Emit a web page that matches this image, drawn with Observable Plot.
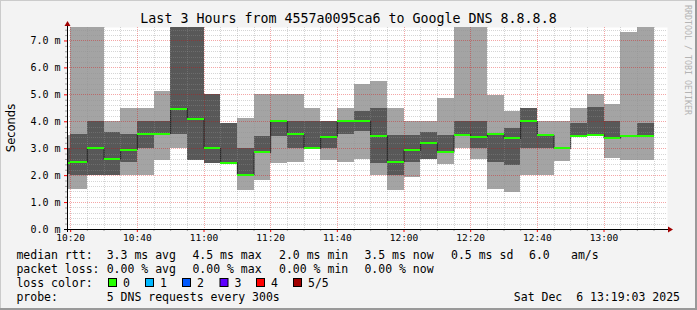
<!DOCTYPE html>
<html><head><meta charset="utf-8">
<script src="https://cdn.jsdelivr.net/npm/d3@7"></script>
<script src="https://cdn.jsdelivr.net/npm/@observablehq/plot@0.6"></script>
<style>
html,body{margin:0;padding:0;background:#f3f3f3;}
#chart svg{display:block;}
text{white-space:pre;}
</style></head><body><div id="chart"></div>
<script>
// ---- data (ms) ----
const binStart = ["10:15","10:20","10:25","10:30","10:35","10:40","10:45","10:50","10:55",
  "11:00","11:05","11:10","11:15","11:20","11:25","11:30","11:35","11:40","11:45","11:50","11:55",
  "12:00","12:05","12:10","12:15","12:20","12:25","12:30","12:35","12:40","12:45","12:50","12:55",
  "13:00","13:05","13:10"];
const ping1 = [1.49,1.50,2.02,2.02,2.02,2.02,2.57,3.01,2.57,2.45,2.45,1.46,1.83,2.45,2.49,3.01,2.57,2.49,2.61,2.02,1.46,1.93,2.61,2.43,3.01,2.61,1.50,1.37,2.02,2.02,2.52,3.48,3.52,2.64,2.57,2.57];
const ping2 = [2.03,2.02,2.02,2.02,2.49,3.01,3.52,3.52,2.57,2.45,2.45,2.02,2.84,3.45,3.01,3.01,3.01,3.52,3.64,2.45,2.02,2.49,2.61,2.84,3.48,3.01,2.49,2.39,3.01,3.01,3.01,3.48,3.52,3.39,3.48,3.48];
const median = [2.48,2.51,3.01,2.61,2.97,3.53,3.56,4.49,4.11,3.01,2.48,2.03,2.86,4.01,3.53,3.01,3.45,4.01,4.01,3.48,2.49,2.94,3.20,2.86,3.52,3.45,3.53,3.38,4.01,3.51,3.01,3.48,3.52,3.39,3.48,3.48];
const ping4 = [3.02,3.52,4.01,3.60,3.52,4.01,4.01,8.00,8.00,5.03,3.94,3.01,3.45,4.01,4.01,4.01,4.01,4.01,4.38,4.49,3.48,3.48,3.60,3.48,4.01,4.01,3.53,3.75,4.49,3.52,3.01,3.94,4.53,4.01,3.48,3.94];
const ping5 = [3.49,8.00,8.00,4.01,4.49,4.49,5.12,8.00,8.00,5.03,3.94,4.11,5.03,5.03,5.03,4.49,4.01,4.49,5.40,5.50,4.49,4.01,4.01,4.86,8.00,8.00,4.99,4.38,4.49,4.01,4.01,4.49,5.03,4.65,7.32,8.00];
const yTicks = [0,1,2,3,4,5,6,7];
const xTickLabels = ["10:20","10:40","11:00","11:20","11:40","12:00","12:20","12:40","13:00"];
const titleText = "Last 3 Hours from 4557a0095ca6 to Google DNS 8.8.8.8";
const rttItems = [["median rtt:",16.4],["3.3 ms avg",106.7],["4.5 ms max",192.4],["2.0 ms min",279],["3.5 ms now",364.4],["0.5 ms sd",451],["6.0",529],["am/s",571]];
const lossItems = [["packet loss:",16.4],["0.00 % avg",106.7],["0.00 % max",192.4],["0.00 % min",279],["0.00 % now",364.4]];
const lossColorLabels = ["0","1","2","3","4","5/5"];
const lossColors = ["#26ff00","#00b8ff","#0059ff","#5e00ff","#ff0000","#a00000"];
const probeText = "5 DNS requests every 300s";
const dateText = "Sat Dec  6 13:19:03 2025";

// ---- build ----
const day = "2025-12-06T";
const parse = s => new Date(day + s + ":00Z");
const bins = binStart.map((s, i) => ({
  start: parse(s), end: d3.utcMinute.offset(parse(s), 5),
  p1: ping1[i], p2: ping2[i], p3: median[i], p4: ping4[i], p5: ping5[i]
}));
const medPts = bins.map(b => ({t: b.start, v: b.p3}));
medPts.push({t: bins[bins.length-1].end, v: bins[bins.length-1].p3});
const x0 = new Date(day + "10:19:03Z"), x1 = new Date(day + "13:19:03Z");
const W = 697, H = 310, ML = 67, MR = 30, MT = 27, MB = 81;

const allX = d3.utcMinute.every(5).range(x0, x1);
const majorX = xTickLabels.map(parse);
const minorX = allX.filter(d => d.getUTCMinutes() % 20 !== 0);
const minorY = d3.range(1, 38).filter(i => i % 5 !== 0).map(i => i / 5);
const fmtY = d => d.toFixed(1) + " m";

const chart = Plot.plot({
  width: W, height: H, marginLeft: ML, marginRight: MR, marginTop: MT, marginBottom: MB,
  style: {background: "#f3f3f3", fontFamily: "'DejaVu Sans Mono', monospace", color: "#000"},
  x: {type: "utc", domain: [x0, x1]},
  y: {domain: [0, 7.5]},
  marks: [
    Plot.frame({fill: "#ffffff", stroke: "none"}),
    Plot.rect(bins, {x1: "start", x2: "end", y1: "p1", y2: "p5", fill: "#a4a4a4", clip: true, shapeRendering: "crispEdges"}),
    Plot.rect(bins, {x1: "start", x2: "end", y1: "p2", y2: "p4", fill: "#585858", clip: true, shapeRendering: "crispEdges"}),
    Plot.ruleX(minorX, {stroke: "#909090", strokeOpacity: 0.38, strokeDasharray: "1,1", shapeRendering: "crispEdges"}),
    Plot.ruleY(minorY, {stroke: "#909090", strokeOpacity: 0.38, strokeDasharray: "1,1", shapeRendering: "crispEdges"}),
    Plot.ruleX(majorX, {stroke: "#e00000", strokeOpacity: 0.35, strokeDasharray: "1,1", shapeRendering: "crispEdges"}),
    Plot.ruleY(yTicks.slice(1), {stroke: "#e00000", strokeOpacity: 0.35, strokeDasharray: "1,1", shapeRendering: "crispEdges"}),
    Plot.line(medPts, {x: "t", y: "v", curve: "step-after", stroke: "#202020", strokeWidth: 1, strokeDasharray: "1,1", clip: true}),
    Plot.ruleY(bins, {x1: "start", x2: "end", y: "p3", stroke: "#26ff00", strokeWidth: 2, clip: true, shapeRendering: "crispEdges"}),
    Plot.axisX(minorX, {tickSize: 2, tickFormat: () => "", stroke: "#a0a0a0"}),
    Plot.axisX(majorX, {tickSize: 3, tickFormat: () => "", stroke: "#ff0000"}),
    Plot.axisX(majorX, {tickSize: 0, tickPadding: 5, tickFormat: d3.utcFormat("%H:%M"), fontSize: 9.5, fill: "#000"}),
    Plot.axisY(minorY, {tickSize: 2, tickFormat: () => "", stroke: "#a0a0a0"}),
    Plot.axisY(yTicks, {tickSize: 3, tickFormat: () => "", stroke: "#ff0000"}),
    Plot.axisY(yTicks, {tickSize: 0, tickPadding: 7, tickFormat: fmtY, fontSize: 10, fill: "#000"})
  ]
});
document.getElementById("chart").appendChild(chart);

// ---- decorations ----
const svg = d3.select(chart);
const xs = chart.scale("x"), ys = chart.scale("y");
const px0 = Math.round(xs.apply(x0)), px1 = Math.round(xs.apply(x1));
const py0 = Math.round(ys.apply(0)), pyTop = Math.round(ys.apply(7.5));
// axis lines
svg.append("line").attr("x1", px0 - 3).attr("x2", px1 + 2).attr("y1", py0 + 0.5).attr("y2", py0 + 0.5).attr("stroke", "#000");
svg.append("line").attr("x1", px0 + 0.5).attr("x2", px0 + 0.5).attr("y1", py0 + 3).attr("y2", pyTop - 2).attr("stroke", "#000");
svg.append("path").attr("d", `M${px1+1},${py0+0.5-3}L${px1+6},${py0+0.5}L${px1+1},${py0+0.5+3}Z`).attr("fill", "#a00000");
svg.append("path").attr("d", `M${px0+0.5-3},${pyTop-1}L${px0+0.5},${pyTop-6}L${px0+0.5+3},${pyTop-1}Z`).attr("fill", "#a00000");
// border
svg.append("line").attr("x1", 0).attr("x2", W).attr("y1", 0.5).attr("y2", 0.5).attr("stroke", "#cbcbcb");
svg.append("line").attr("x1", 0.5).attr("x2", 0.5).attr("y1", 0).attr("y2", H).attr("stroke", "#cbcbcb");
svg.append("rect").attr("x", 0).attr("y", H - 2).attr("width", W).attr("height", 2).attr("fill", "#999");
svg.append("rect").attr("x", W - 2).attr("y", 0).attr("width", 2).attr("height", H).attr("fill", "#999");
// title
svg.append("text").attr("x", W / 2).attr("y", 23).attr("text-anchor", "middle")
  .attr("font-family", "'DejaVu Sans Mono', monospace").attr("font-size", 13.3).attr("fill", "#000").text(titleText);
// y label
svg.append("text").attr("transform", `translate(15,${(py0 + pyTop) / 2}) rotate(-90)`).attr("text-anchor", "middle")
  .attr("font-family", "'DejaVu Sans', sans-serif").attr("font-size", 11.5).attr("fill", "#000").text("Seconds");
// watermark
svg.append("text").attr("transform", "translate(685,5) rotate(90)").attr("text-anchor", "start")
  .attr("font-family", "'DejaVu Sans Mono', monospace").attr("font-size", 8.3).attr("fill", "#b4b4b4").text("RRDTOOL / TOBI OETIKER");
// legend
const lg = svg.append("g").attr("font-family", "'DejaVu Sans Mono', monospace").attr("font-size", 11.5)
  .attr("fill", "#000").attr("text-anchor", "start");
const rows = [258.5, 272.5, 286.5, 300.5];
rttItems.forEach(([t, x]) => lg.append("text").attr("x", x).attr("y", rows[0]).text(t));
lossItems.forEach(([t, x]) => lg.append("text").attr("x", x).attr("y", rows[1]).text(t));
lg.append("text").attr("x", 16.4).attr("y", rows[2]).text("loss color:");
const boxX = [108, 145, 182, 219.5, 256, 293];
lossColorLabels.forEach((t, i) => {
  lg.append("rect").attr("x", boxX[i] + 0.5).attr("y", 278.5).attr("width", 8).attr("height", 8)
    .attr("fill", lossColors[i]).attr("stroke", "#000").attr("stroke-width", 1);
  lg.append("text").attr("x", boxX[i] + 15).attr("y", rows[2]).text(t);
});
lg.append("text").attr("x", 16.4).attr("y", rows[3]).text("probe:");
lg.append("text").attr("x", 106.7).attr("y", rows[3]).text(probeText);
lg.append("text").attr("x", 680).attr("y", rows[3]).attr("text-anchor", "end").text(dateText);
</script></body></html>
